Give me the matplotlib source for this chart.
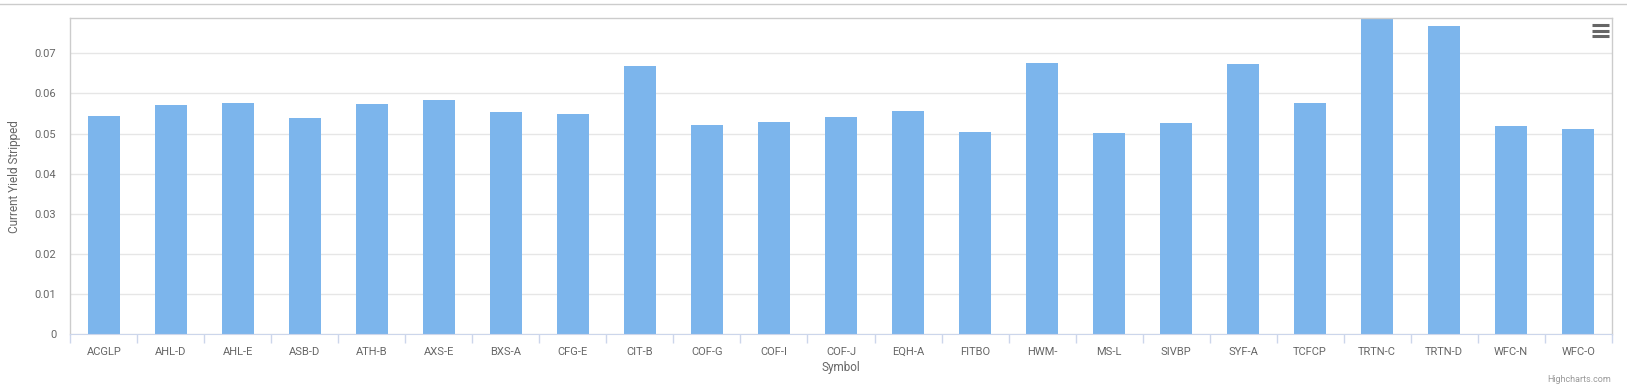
import matplotlib.pyplot as plt
from matplotlib.lines import Line2D

# Data
symbols = ["ACGLP", "AHL-D", "AHL-E", "ASB-D", "ATH-B", "AXS-E", "BXS-A", "CFG-E",
           "CIT-B", "COF-G", "COF-I", "COF-J", "EQH-A", "FITBO", "HWM-", "MS-L",
           "SIVBP", "SYF-A", "TCFCP", "TRTN-C", "TRTN-D", "WFC-N", "WFC-O"]
yields = [0.0544, 0.0571, 0.0576, 0.0539, 0.0574, 0.0584, 0.0554, 0.0549,
          0.0668, 0.0521, 0.0529, 0.0541, 0.0556, 0.0504, 0.0676, 0.0501,
          0.0526, 0.0673, 0.0576, 0.0787, 0.0768, 0.0519, 0.0511]
y_ticks = [0, 0.01, 0.02, 0.03, 0.04, 0.05, 0.06, 0.07]
y_tick_labels = ["0", "0.01", "0.02", "0.03", "0.04", "0.05", "0.06", "0.07"]

plt.rcParams["font.family"] = ["Roboto", "DejaVu Sans"]
text_color = "#666666"

W, H = 1627, 388
fig = plt.figure(figsize=(W / 100, H / 100), dpi=100)
left, right, bottom, top = 70.3, 1611.7, 334.3, 18.3
ax = fig.add_axes([left / W, 1 - bottom / H, (right - left) / W, (bottom - top) / H])

x = range(len(symbols))
ax.bar(x, yields, width=0.48, color="#7cb5ec", zorder=2)

ax.set_xlim(-0.5, len(symbols) - 0.5)
ax.set_ylim(0, 0.0787)

# y axis: gridlines, no ticks
ax.set_yticks(y_ticks)
ax.set_yticklabels(y_tick_labels)
ax.tick_params(axis="y", length=0, pad=10, labelsize=8, labelcolor=text_color)
ax.yaxis.grid(True, color="#e6e6e6", linewidth=1, zorder=0)

# x axis: labels at centres, tick marks at category boundaries
ax.set_xticks(list(x))
ax.set_xticklabels(symbols)
ax.set_xticks([i - 0.5 for i in range(len(symbols) + 1)], minor=True)
ax.tick_params(axis="x", which="major", length=0, pad=9, labelsize=8, labelcolor=text_color)
ax.tick_params(axis="x", which="minor", length=6.5, width=1, color="#ccd6eb", direction="out")

for side in ["left", "top", "right"]:
    ax.spines[side].set_color("#cccccc")
    ax.spines[side].set_linewidth(1)
ax.spines["bottom"].set_color("#ccd6eb")

ax.set_ylabel("Current Yield Stripped", fontsize=8.5, color=text_color)
ax.yaxis.set_label_coords(-0.0322, 0.5)
ax.set_xlabel("Symbol", fontsize=8.5, color=text_color)
ax.xaxis.set_label_coords(0.5, -0.106)
ax.xaxis.label.set_va("center")

# thin container line at the very top
fig.add_artist(Line2D([0, 1], [1 - 3.5 / H, 1 - 3.5 / H], color="#cccccc", linewidth=1))

# hamburger menu icon
for yy in [25.0, 30.5, 36.0]:
    fig.add_artist(Line2D([1592 / W, 1608.5 / W], [1 - yy / H, 1 - yy / H],
                          color="#666666", linewidth=2.2, solid_capstyle="butt"))

fig.text(1610.5 / W, 1 - 380 / H, "Highcharts.com", ha="right", va="center",
         fontsize=6.5, color="#999999")

fig.savefig("out.png", dpi=100)
